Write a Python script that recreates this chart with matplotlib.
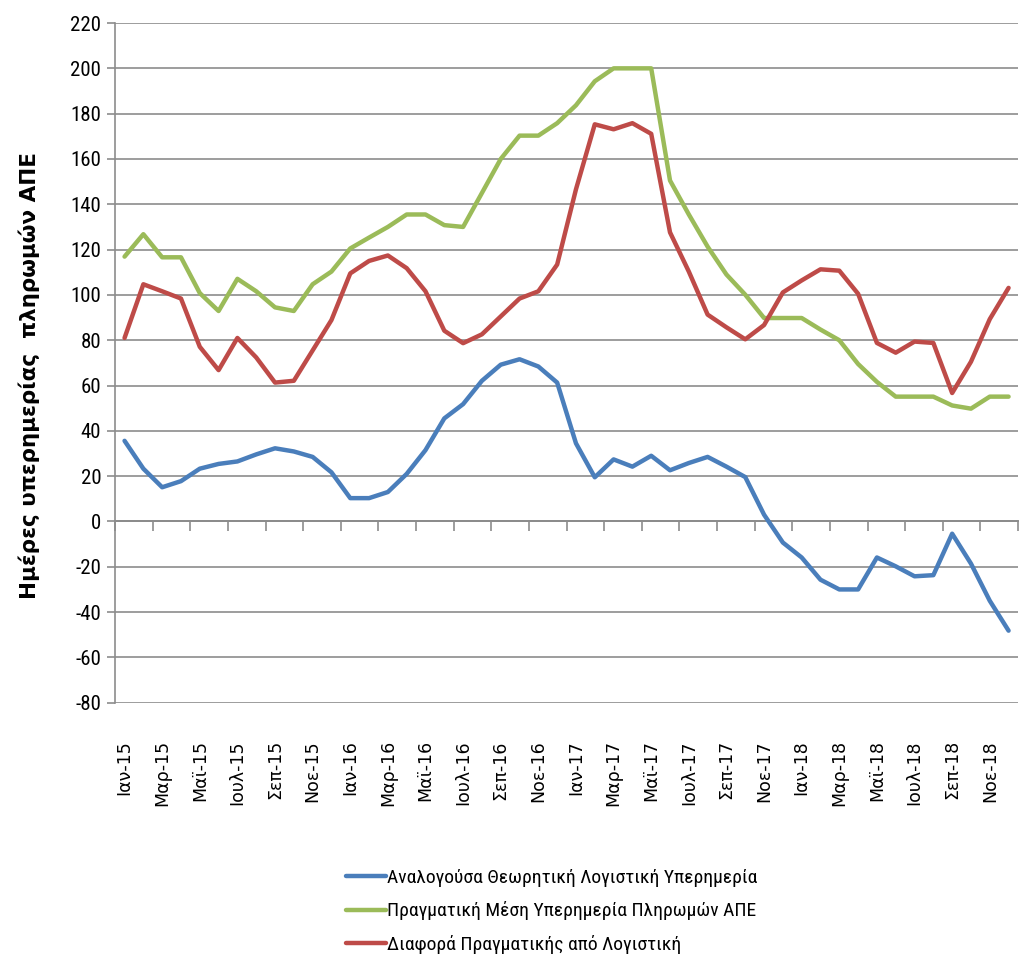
import matplotlib.pyplot as plt
import numpy as np

plt.rcParams['axes.unicode_minus'] = False

# Monthly data, Jan 2015 - Dec 2018
years = ['15', '16', '17', '18']
label_months = ['Ιαν', 'Μαρ', 'Μαϊ', 'Ιουλ', 'Σεπ', 'Νοε']
tick_labels = [f'{m}-{y}' for y in years for m in label_months]

blue = [35.6, 23.3, 15.1, 17.8, 23.3, 25.4, 26.5, 29.6, 32.3, 30.9, 28.5, 21.7,
        10.3, 10.3, 13.0, 21.0, 31.5, 45.5, 51.8, 62.1, 69.2, 71.6, 68.4, 61.3,
        34.5, 19.5, 27.4, 24.2, 29.0, 22.6, 25.8, 28.5, 24.2, 19.6, 3.0, -9.3,
        -15.9, -25.7, -30.0, -30.0, -15.9, -19.8, -24.2, -23.7, -5.4, -18.6, -35.0, -48.2]
green = [116.9, 126.8, 116.6, 116.6, 100.8, 92.9, 107.1, 101.6, 94.5, 92.9, 104.7, 110.3,
         120.5, 125.3, 130.0, 135.5, 135.5, 130.8, 130.0, 145.0, 160.0, 170.3, 170.3, 175.8,
         183.7, 194.3, 200.0, 200.0, 200.0, 150.5, 135.5, 121.3, 109.0, 100.1, 89.8, 89.8,
         89.8, 84.7, 80.0, 69.5, 61.6, 55.1, 55.1, 55.1, 51.2, 49.8, 55.1, 55.1]
red = [81.0, 104.7, 101.6, 98.4, 77.1, 66.8, 81.0, 72.4, 61.3, 62.1, 75.5, 88.9,
       109.5, 115.0, 117.4, 111.8, 101.6, 84.2, 78.7, 82.6, 90.5, 98.4, 101.6, 113.4,
       146.6, 175.3, 173.1, 175.8, 171.1, 127.6, 110.3, 91.3, 85.7, 80.4, 86.7, 101.1,
       106.4, 111.3, 110.7, 100.5, 78.8, 74.5, 79.4, 78.8, 56.7, 70.5, 89.3, 103.1]

series_names = ['Αναλογούσα Θεωρητική Λογιστική Υπερημερία',
                'Πραγματική Μέση Υπερημερία Πληρωμών ΑΠΕ',
                'Διαφορά Πραγματικής από Λογιστική']
colors = ['#4A7EBB', '#9BBB59', '#BE4B48']

narrow = ['Roboto Condensed', 'DejaVu Sans']
grid_color = '#8C8C8C'

fig = plt.figure(figsize=(10.19, 9.6), dpi=100)
ax = fig.add_axes([0.113, 0.268, 0.886, 0.708])

x = np.arange(len(blue))
handles = []
for vals, c, name in zip([blue, green, red], colors, series_names):
    h, = ax.plot(x, vals, color=c, linewidth=3.2, solid_joinstyle='round',
                 solid_capstyle='round', label=name, zorder=3)
    handles.append(h)

ax.set_xlim(-0.5, len(x) - 0.5)
ax.set_ylim(-80, 220)
ax.set_yticks(np.arange(-80, 221, 20))
ax.yaxis.grid(True, color=grid_color, linewidth=1.2)
ax.set_axisbelow(True)

for t in ax.get_yticklabels():
    t.set_family(narrow)
ax.tick_params(axis='y', labelsize=15, length=6, color=grid_color, width=1.2, pad=4)

# category labels at the bottom, every second month
ax.set_xticks(x[::2])
ax.set_xticklabels(tick_labels, rotation=90, fontsize=12.5)
ax.tick_params(axis='x', length=0, pad=27)

for s in ['top', 'right', 'bottom']:
    ax.spines[s].set_visible(False)
ax.spines['left'].set_color(grid_color)
ax.spines['left'].set_linewidth(1.2)

# horizontal axis line at zero with tick marks between categories
sec = ax.secondary_xaxis(0, transform=ax.transData)
sec.set_xticks(np.arange(-0.5, len(x), 2))
sec.set_xticklabels([])
sec.tick_params(direction='out', length=7, color=grid_color, width=1.2)
sec.spines['bottom'].set_color(grid_color)
sec.spines['bottom'].set_linewidth(1.4)

ax.set_ylabel('Ημέρες υπερημερίας  πληρωμών ΑΠΕ', fontsize=15.5, fontweight='bold')
ax.yaxis.set_label_coords(-0.083, 0.482)

fig.legend(handles=handles, loc='upper left', bbox_to_anchor=(0.322, 0.113),
           frameon=False, handlelength=2.1, handletextpad=0.05, labelspacing=0.74,
           prop={'family': narrow, 'size': 14})

plt.savefig('out.png', dpi=100)
